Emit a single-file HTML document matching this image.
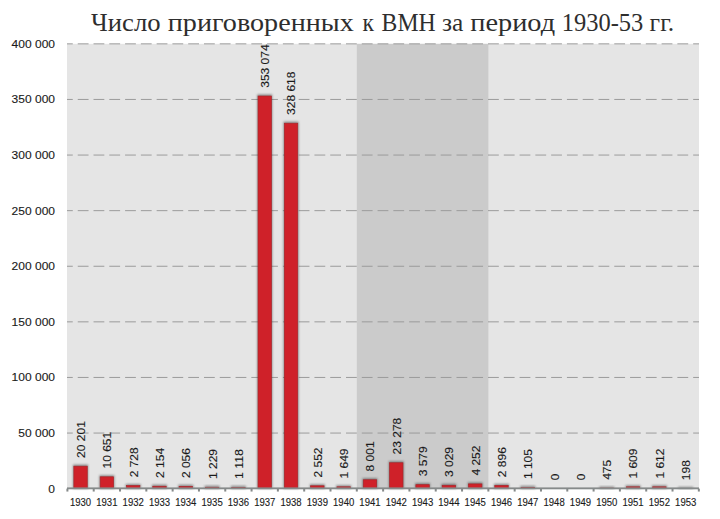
<!DOCTYPE html>
<html><head><meta charset="utf-8"><style>
html,body{margin:0;padding:0;background:#fff;}
body{width:720px;height:519px;overflow:hidden;position:relative;}
svg{position:absolute;left:0;top:0;font-family:"Liberation Sans",sans-serif;}
text{stroke:#1a1a1a;stroke-width:0.12px;}
text.t{stroke:none;}
.t{font-family:"Liberation Serif",serif;}
</style></head><body>
<svg width="720" height="519" viewBox="0 0 720 519">
<defs><filter id="bl" x="-50%" y="-50%" width="200%" height="200%"><feGaussianBlur stdDeviation="1.3"/></filter><filter id="sh" x="-50%" y="-50%" width="200%" height="200%"><feDropShadow dx="0" dy="0" stdDeviation="1.3" flood-color="#3a3a3a" flood-opacity="0.55"/></filter></defs>
<rect width="720" height="519" fill="#fff"/>
<text class="t" x="91.10" y="31.0" font-size="25.2" fill="#2e2e2e" textLength="69.50" lengthAdjust="spacingAndGlyphs"><tspan font-size="24.3">Ч</tspan>исло</text>
<text class="t" x="167.80" y="31.0" font-size="25.2" fill="#2e2e2e" textLength="186.00" lengthAdjust="spacingAndGlyphs">приговоренных</text>
<text class="t" x="362.50" y="31.0" font-size="25.2" fill="#2e2e2e" textLength="11.50" lengthAdjust="spacingAndGlyphs">к</text>
<text class="t" x="381.60" y="31.0" font-size="25.2" fill="#2e2e2e" textLength="54.00" lengthAdjust="spacingAndGlyphs"><tspan font-size="24.3">ВМН</tspan></text>
<text class="t" x="442.00" y="31.0" font-size="25.2" fill="#2e2e2e" textLength="21.30" lengthAdjust="spacingAndGlyphs">за</text>
<text class="t" x="470.30" y="31.0" font-size="25.2" fill="#2e2e2e" textLength="84.80" lengthAdjust="spacingAndGlyphs">период</text>
<text class="t" x="561.80" y="31.0" font-size="25.2" fill="#2e2e2e" textLength="81.50" lengthAdjust="spacingAndGlyphs"><tspan font-size="24.3">1930-53</tspan></text>
<text class="t" x="649.60" y="31.0" font-size="25.2" fill="#2e2e2e" textLength="24.60" lengthAdjust="spacingAndGlyphs">гг.</text>
<rect x="67.0" y="43.85" width="632.0" height="444.79999999999995" fill="#e5e5e5"/>
<rect x="356.81" y="43.85" width="131.55" height="444.79999999999995" fill="#cbcbcb"/>
<line x1="67.0" y1="433.05" x2="699.0" y2="433.05" stroke="#9b9b9b" stroke-width="1" stroke-dasharray="10.8 4.98" stroke-dashoffset="5.03"/>
<line x1="67.0" y1="377.45" x2="699.0" y2="377.45" stroke="#9b9b9b" stroke-width="1" stroke-dasharray="10.8 4.98" stroke-dashoffset="5.03"/>
<line x1="67.0" y1="321.85" x2="699.0" y2="321.85" stroke="#9b9b9b" stroke-width="1" stroke-dasharray="10.8 4.98" stroke-dashoffset="5.03"/>
<line x1="67.0" y1="266.25" x2="699.0" y2="266.25" stroke="#9b9b9b" stroke-width="1" stroke-dasharray="10.8 4.98" stroke-dashoffset="5.03"/>
<line x1="67.0" y1="210.65" x2="699.0" y2="210.65" stroke="#9b9b9b" stroke-width="1" stroke-dasharray="10.8 4.98" stroke-dashoffset="5.03"/>
<line x1="67.0" y1="155.05" x2="699.0" y2="155.05" stroke="#9b9b9b" stroke-width="1" stroke-dasharray="10.8 4.98" stroke-dashoffset="5.03"/>
<line x1="67.0" y1="99.45" x2="699.0" y2="99.45" stroke="#9b9b9b" stroke-width="1" stroke-dasharray="10.8 4.98" stroke-dashoffset="5.03"/>
<line x1="67.0" y1="43.85" x2="699.0" y2="43.85" stroke="#9b9b9b" stroke-width="1" stroke-dasharray="10.8 4.98" stroke-dashoffset="5.03"/>
<text x="55.0" y="492.60" text-anchor="end" font-size="11.2" fill="#1a1a1a" textLength="6.67" lengthAdjust="spacingAndGlyphs">0</text>
<text x="55.0" y="437.00" text-anchor="end" font-size="11.2" fill="#1a1a1a" textLength="36.70" lengthAdjust="spacingAndGlyphs">50 000</text>
<text x="55.0" y="381.40" text-anchor="end" font-size="11.2" fill="#1a1a1a" textLength="43.37" lengthAdjust="spacingAndGlyphs">100 000</text>
<text x="55.0" y="325.80" text-anchor="end" font-size="11.2" fill="#1a1a1a" textLength="43.37" lengthAdjust="spacingAndGlyphs">150 000</text>
<text x="55.0" y="270.20" text-anchor="end" font-size="11.2" fill="#1a1a1a" textLength="43.37" lengthAdjust="spacingAndGlyphs">200 000</text>
<text x="55.0" y="214.60" text-anchor="end" font-size="11.2" fill="#1a1a1a" textLength="43.37" lengthAdjust="spacingAndGlyphs">250 000</text>
<text x="55.0" y="159.00" text-anchor="end" font-size="11.2" fill="#1a1a1a" textLength="43.37" lengthAdjust="spacingAndGlyphs">300 000</text>
<text x="55.0" y="103.40" text-anchor="end" font-size="11.2" fill="#1a1a1a" textLength="43.37" lengthAdjust="spacingAndGlyphs">350 000</text>
<text x="55.0" y="47.80" text-anchor="end" font-size="11.2" fill="#1a1a1a" textLength="43.37" lengthAdjust="spacingAndGlyphs">400 000</text>
<rect x="73.06" y="464.59" width="15.00" height="24.06" fill="#404040" opacity="0.55" filter="url(#bl)"/>
<rect x="73.86" y="466.19" width="13.4" height="22.46" fill="#cf2129" stroke="#a8262b" stroke-width="0.7"/>
<text transform="translate(84.96,457.89) rotate(-90)" font-size="11.0" fill="#1a1a1a" textLength="36.70" lengthAdjust="spacingAndGlyphs">20 201</text>
<text x="80.56" y="506.1" text-anchor="middle" font-size="10.2" fill="#1a1a1a" textLength="21.2" lengthAdjust="spacingAndGlyphs">1930</text>
<rect x="99.37" y="475.21" width="15.00" height="13.44" fill="#404040" opacity="0.55" filter="url(#bl)"/>
<rect x="100.17" y="476.81" width="13.4" height="11.84" fill="#cf2129" stroke="#a8262b" stroke-width="0.7"/>
<text transform="translate(111.27,468.51) rotate(-90)" font-size="11.0" fill="#1a1a1a" textLength="36.70" lengthAdjust="spacingAndGlyphs">10 651</text>
<text x="106.87" y="506.1" text-anchor="middle" font-size="10.2" fill="#1a1a1a" textLength="21.2" lengthAdjust="spacingAndGlyphs">1931</text>
<rect x="125.68" y="484.02" width="15.00" height="4.63" fill="#404040" opacity="0.55" filter="url(#bl)"/>
<rect x="126.48" y="485.62" width="13.4" height="3.03" fill="#cf2129" stroke="#a8262b" stroke-width="0.7"/>
<text transform="translate(137.58,477.32) rotate(-90)" font-size="11.0" fill="#1a1a1a" textLength="30.02" lengthAdjust="spacingAndGlyphs">2 728</text>
<text x="133.18" y="506.1" text-anchor="middle" font-size="10.2" fill="#1a1a1a" textLength="21.2" lengthAdjust="spacingAndGlyphs">1932</text>
<rect x="151.99" y="484.65" width="15.00" height="4.00" fill="#404040" opacity="0.55" filter="url(#bl)"/>
<rect x="152.79" y="486.25" width="13.4" height="2.40" fill="#cf2129" stroke="#a8262b" stroke-width="0.7"/>
<text transform="translate(163.89,477.95) rotate(-90)" font-size="11.0" fill="#1a1a1a" textLength="30.02" lengthAdjust="spacingAndGlyphs">2 154</text>
<text x="159.49" y="506.1" text-anchor="middle" font-size="10.2" fill="#1a1a1a" textLength="21.2" lengthAdjust="spacingAndGlyphs">1933</text>
<rect x="178.30" y="484.76" width="15.00" height="3.89" fill="#404040" opacity="0.55" filter="url(#bl)"/>
<rect x="179.10" y="486.36" width="13.4" height="2.29" fill="#cf2129" stroke="#a8262b" stroke-width="0.7"/>
<text transform="translate(190.20,478.06) rotate(-90)" font-size="11.0" fill="#1a1a1a" textLength="30.02" lengthAdjust="spacingAndGlyphs">2 056</text>
<text x="185.80" y="506.1" text-anchor="middle" font-size="10.2" fill="#1a1a1a" textLength="21.2" lengthAdjust="spacingAndGlyphs">1934</text>
<rect x="204.60" y="485.68" width="15.00" height="2.97" fill="#404040" opacity="0.55" filter="url(#bl)"/>
<rect x="205.41" y="487.28" width="13.4" height="1.37" fill="#cf2129" stroke="#a8262b" stroke-width="0.7"/>
<text transform="translate(216.50,478.98) rotate(-90)" font-size="11.0" fill="#1a1a1a" textLength="30.02" lengthAdjust="spacingAndGlyphs">1 229</text>
<text x="212.10" y="506.1" text-anchor="middle" font-size="10.2" fill="#1a1a1a" textLength="21.2" lengthAdjust="spacingAndGlyphs">1935</text>
<rect x="230.91" y="485.81" width="15.00" height="2.84" fill="#404040" opacity="0.55" filter="url(#bl)"/>
<rect x="231.72" y="487.41" width="13.4" height="1.24" fill="#cf2129" stroke="#a8262b" stroke-width="0.7"/>
<text transform="translate(242.81,479.11) rotate(-90)" font-size="11.0" fill="#1a1a1a" textLength="30.02" lengthAdjust="spacingAndGlyphs">1 118</text>
<text x="238.41" y="506.1" text-anchor="middle" font-size="10.2" fill="#1a1a1a" textLength="21.2" lengthAdjust="spacingAndGlyphs">1936</text>
<rect x="257.23" y="94.43" width="15.00" height="394.22" fill="#404040" opacity="0.55" filter="url(#bl)"/>
<rect x="258.03" y="96.03" width="13.4" height="392.62" fill="#cf2129" stroke="#a8262b" stroke-width="0.7"/>
<text transform="translate(269.12,87.73) rotate(-90)" font-size="11.0" fill="#1a1a1a" textLength="43.37" lengthAdjust="spacingAndGlyphs">353 074</text>
<text x="264.73" y="506.1" text-anchor="middle" font-size="10.2" fill="#1a1a1a" textLength="21.2" lengthAdjust="spacingAndGlyphs">1937</text>
<rect x="283.53" y="121.63" width="15.00" height="367.02" fill="#404040" opacity="0.55" filter="url(#bl)"/>
<rect x="284.33" y="123.23" width="13.4" height="365.42" fill="#cf2129" stroke="#a8262b" stroke-width="0.7"/>
<text transform="translate(295.43,114.93) rotate(-90)" font-size="11.0" fill="#1a1a1a" textLength="43.37" lengthAdjust="spacingAndGlyphs">328 618</text>
<text x="291.03" y="506.1" text-anchor="middle" font-size="10.2" fill="#1a1a1a" textLength="21.2" lengthAdjust="spacingAndGlyphs">1938</text>
<rect x="309.85" y="484.21" width="15.00" height="4.44" fill="#404040" opacity="0.55" filter="url(#bl)"/>
<rect x="310.65" y="485.81" width="13.4" height="2.84" fill="#cf2129" stroke="#a8262b" stroke-width="0.7"/>
<text transform="translate(321.75,477.51) rotate(-90)" font-size="11.0" fill="#1a1a1a" textLength="30.02" lengthAdjust="spacingAndGlyphs">2 552</text>
<text x="317.35" y="506.1" text-anchor="middle" font-size="10.2" fill="#1a1a1a" textLength="21.2" lengthAdjust="spacingAndGlyphs">1939</text>
<rect x="336.15" y="485.22" width="15.00" height="3.43" fill="#404040" opacity="0.55" filter="url(#bl)"/>
<rect x="336.95" y="486.82" width="13.4" height="1.83" fill="#cf2129" stroke="#a8262b" stroke-width="0.7"/>
<text transform="translate(348.05,478.52) rotate(-90)" font-size="11.0" fill="#1a1a1a" textLength="30.02" lengthAdjust="spacingAndGlyphs">1 649</text>
<text x="343.65" y="506.1" text-anchor="middle" font-size="10.2" fill="#1a1a1a" textLength="21.2" lengthAdjust="spacingAndGlyphs">1940</text>
<rect x="362.47" y="478.15" width="15.00" height="10.50" fill="#404040" opacity="0.55" filter="url(#bl)"/>
<rect x="363.27" y="479.75" width="13.4" height="8.90" fill="#cf2129" stroke="#a8262b" stroke-width="0.7"/>
<text transform="translate(374.37,471.45) rotate(-90)" font-size="11.0" fill="#1a1a1a" textLength="30.02" lengthAdjust="spacingAndGlyphs">8 001</text>
<text x="369.97" y="506.1" text-anchor="middle" font-size="10.2" fill="#1a1a1a" textLength="21.2" lengthAdjust="spacingAndGlyphs">1941</text>
<rect x="388.77" y="461.16" width="15.00" height="27.49" fill="#404040" opacity="0.55" filter="url(#bl)"/>
<rect x="389.57" y="462.76" width="13.4" height="25.89" fill="#cf2129" stroke="#a8262b" stroke-width="0.7"/>
<text transform="translate(400.67,454.46) rotate(-90)" font-size="11.0" fill="#1a1a1a" textLength="36.70" lengthAdjust="spacingAndGlyphs">23 278</text>
<text x="396.27" y="506.1" text-anchor="middle" font-size="10.2" fill="#1a1a1a" textLength="21.2" lengthAdjust="spacingAndGlyphs">1942</text>
<rect x="415.09" y="483.07" width="15.00" height="5.58" fill="#404040" opacity="0.55" filter="url(#bl)"/>
<rect x="415.89" y="484.67" width="13.4" height="3.98" fill="#cf2129" stroke="#a8262b" stroke-width="0.7"/>
<text transform="translate(426.99,476.37) rotate(-90)" font-size="11.0" fill="#1a1a1a" textLength="30.02" lengthAdjust="spacingAndGlyphs">3 579</text>
<text x="422.59" y="506.1" text-anchor="middle" font-size="10.2" fill="#1a1a1a" textLength="21.2" lengthAdjust="spacingAndGlyphs">1943</text>
<rect x="441.39" y="483.68" width="15.00" height="4.97" fill="#404040" opacity="0.55" filter="url(#bl)"/>
<rect x="442.19" y="485.28" width="13.4" height="3.37" fill="#cf2129" stroke="#a8262b" stroke-width="0.7"/>
<text transform="translate(453.29,476.98) rotate(-90)" font-size="11.0" fill="#1a1a1a" textLength="30.02" lengthAdjust="spacingAndGlyphs">3 029</text>
<text x="448.89" y="506.1" text-anchor="middle" font-size="10.2" fill="#1a1a1a" textLength="21.2" lengthAdjust="spacingAndGlyphs">1944</text>
<rect x="467.71" y="482.32" width="15.00" height="6.33" fill="#404040" opacity="0.55" filter="url(#bl)"/>
<rect x="468.51" y="483.92" width="13.4" height="4.73" fill="#cf2129" stroke="#a8262b" stroke-width="0.7"/>
<text transform="translate(479.61,475.62) rotate(-90)" font-size="11.0" fill="#1a1a1a" textLength="30.02" lengthAdjust="spacingAndGlyphs">4 252</text>
<text x="475.21" y="506.1" text-anchor="middle" font-size="10.2" fill="#1a1a1a" textLength="21.2" lengthAdjust="spacingAndGlyphs">1945</text>
<rect x="494.01" y="483.83" width="15.00" height="4.82" fill="#404040" opacity="0.55" filter="url(#bl)"/>
<rect x="494.81" y="485.43" width="13.4" height="3.22" fill="#cf2129" stroke="#a8262b" stroke-width="0.7"/>
<text transform="translate(505.91,477.13) rotate(-90)" font-size="11.0" fill="#1a1a1a" textLength="30.02" lengthAdjust="spacingAndGlyphs">2 896</text>
<text x="501.51" y="506.1" text-anchor="middle" font-size="10.2" fill="#1a1a1a" textLength="21.2" lengthAdjust="spacingAndGlyphs">1946</text>
<rect x="520.32" y="485.82" width="15.00" height="2.83" fill="#404040" opacity="0.55" filter="url(#bl)"/>
<rect x="521.12" y="487.42" width="13.4" height="1.23" fill="#cf2129" stroke="#a8262b" stroke-width="0.7"/>
<text transform="translate(532.22,479.12) rotate(-90)" font-size="11.0" fill="#1a1a1a" textLength="30.02" lengthAdjust="spacingAndGlyphs">1 105</text>
<text x="527.82" y="506.1" text-anchor="middle" font-size="10.2" fill="#1a1a1a" textLength="21.2" lengthAdjust="spacingAndGlyphs">1947</text>
<text transform="translate(558.53,480.35) rotate(-90)" font-size="11.0" fill="#1a1a1a" textLength="6.67" lengthAdjust="spacingAndGlyphs">0</text>
<text x="554.13" y="506.1" text-anchor="middle" font-size="10.2" fill="#1a1a1a" textLength="21.2" lengthAdjust="spacingAndGlyphs">1948</text>
<text transform="translate(584.84,480.35) rotate(-90)" font-size="11.0" fill="#1a1a1a" textLength="6.67" lengthAdjust="spacingAndGlyphs">0</text>
<text x="580.44" y="506.1" text-anchor="middle" font-size="10.2" fill="#1a1a1a" textLength="21.2" lengthAdjust="spacingAndGlyphs">1949</text>
<rect x="599.25" y="486.52" width="15.00" height="2.13" fill="#404040" opacity="0.55" filter="url(#bl)"/>
<rect x="600.05" y="488.12" width="13.4" height="0.53" fill="#cf2129" stroke="#a8262b" stroke-width="0.7"/>
<text transform="translate(611.15,479.82) rotate(-90)" font-size="11.0" fill="#1a1a1a" textLength="20.02" lengthAdjust="spacingAndGlyphs">475</text>
<text x="606.75" y="506.1" text-anchor="middle" font-size="10.2" fill="#1a1a1a" textLength="21.2" lengthAdjust="spacingAndGlyphs">1950</text>
<rect x="625.56" y="485.26" width="15.00" height="3.39" fill="#404040" opacity="0.55" filter="url(#bl)"/>
<rect x="626.36" y="486.86" width="13.4" height="1.79" fill="#cf2129" stroke="#a8262b" stroke-width="0.7"/>
<text transform="translate(637.46,478.56) rotate(-90)" font-size="11.0" fill="#1a1a1a" textLength="30.02" lengthAdjust="spacingAndGlyphs">1 609</text>
<text x="633.06" y="506.1" text-anchor="middle" font-size="10.2" fill="#1a1a1a" textLength="21.2" lengthAdjust="spacingAndGlyphs">1951</text>
<rect x="651.88" y="485.26" width="15.00" height="3.39" fill="#404040" opacity="0.55" filter="url(#bl)"/>
<rect x="652.67" y="486.86" width="13.4" height="1.79" fill="#cf2129" stroke="#a8262b" stroke-width="0.7"/>
<text transform="translate(663.77,478.56) rotate(-90)" font-size="11.0" fill="#1a1a1a" textLength="30.02" lengthAdjust="spacingAndGlyphs">1 612</text>
<text x="659.38" y="506.1" text-anchor="middle" font-size="10.2" fill="#1a1a1a" textLength="21.2" lengthAdjust="spacingAndGlyphs">1952</text>
<rect x="678.18" y="486.83" width="15.00" height="1.82" fill="#404040" opacity="0.55" filter="url(#bl)"/>
<rect x="678.98" y="488.43" width="13.4" height="0.22" fill="#cf2129" stroke="#a8262b" stroke-width="0.7"/>
<text transform="translate(690.08,480.13) rotate(-90)" font-size="11.0" fill="#1a1a1a" textLength="20.02" lengthAdjust="spacingAndGlyphs">198</text>
<text x="685.68" y="506.1" text-anchor="middle" font-size="10.2" fill="#1a1a1a" textLength="21.2" lengthAdjust="spacingAndGlyphs">1953</text>
<rect x="67.0" y="487.4" width="632.0" height="1.9" fill="#868a8a"/>
<rect x="66.40" y="488.65" width="2" height="2.9" fill="#868a8a"/>
<rect x="92.71" y="488.65" width="2" height="2.9" fill="#868a8a"/>
<rect x="119.02" y="488.65" width="2" height="2.9" fill="#868a8a"/>
<rect x="145.33" y="488.65" width="2" height="2.9" fill="#868a8a"/>
<rect x="171.64" y="488.65" width="2" height="2.9" fill="#868a8a"/>
<rect x="197.95" y="488.65" width="2" height="2.9" fill="#868a8a"/>
<rect x="224.26" y="488.65" width="2" height="2.9" fill="#868a8a"/>
<rect x="250.57" y="488.65" width="2" height="2.9" fill="#868a8a"/>
<rect x="276.88" y="488.65" width="2" height="2.9" fill="#868a8a"/>
<rect x="303.19" y="488.65" width="2" height="2.9" fill="#868a8a"/>
<rect x="329.50" y="488.65" width="2" height="2.9" fill="#868a8a"/>
<rect x="355.81" y="488.65" width="2" height="2.9" fill="#868a8a"/>
<rect x="382.12" y="488.65" width="2" height="2.9" fill="#868a8a"/>
<rect x="408.43" y="488.65" width="2" height="2.9" fill="#868a8a"/>
<rect x="434.74" y="488.65" width="2" height="2.9" fill="#868a8a"/>
<rect x="461.05" y="488.65" width="2" height="2.9" fill="#868a8a"/>
<rect x="487.36" y="488.65" width="2" height="2.9" fill="#868a8a"/>
<rect x="513.67" y="488.65" width="2" height="2.9" fill="#868a8a"/>
<rect x="539.98" y="488.65" width="2" height="2.9" fill="#868a8a"/>
<rect x="566.29" y="488.65" width="2" height="2.9" fill="#868a8a"/>
<rect x="592.60" y="488.65" width="2" height="2.9" fill="#868a8a"/>
<rect x="618.91" y="488.65" width="2" height="2.9" fill="#868a8a"/>
<rect x="645.22" y="488.65" width="2" height="2.9" fill="#868a8a"/>
<rect x="671.53" y="488.65" width="2" height="2.9" fill="#868a8a"/>
<rect x="697.84" y="488.65" width="2" height="2.9" fill="#868a8a"/>
</svg></body></html>
